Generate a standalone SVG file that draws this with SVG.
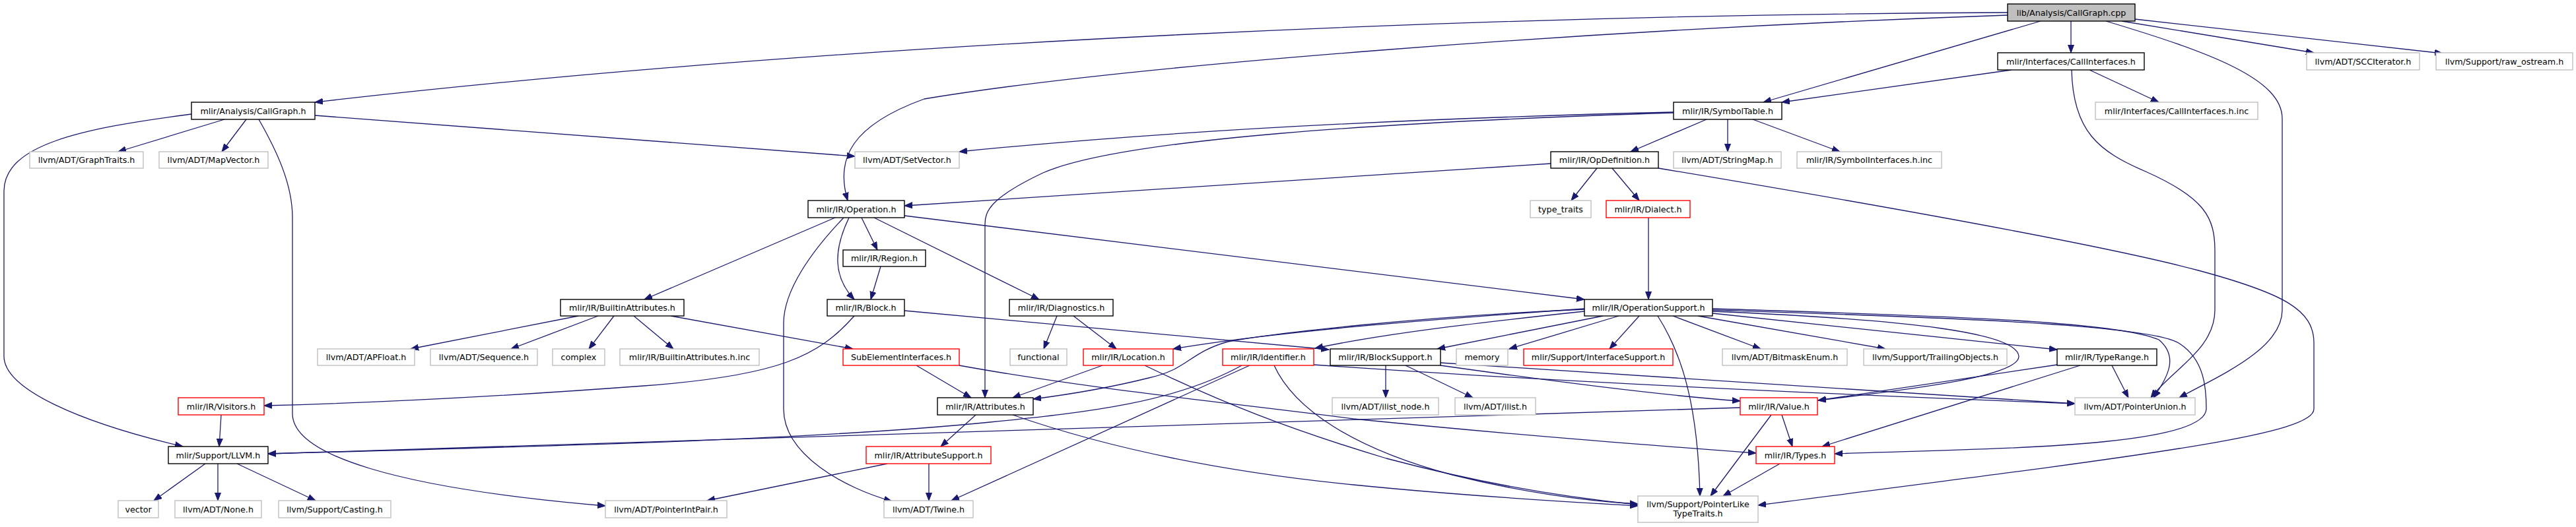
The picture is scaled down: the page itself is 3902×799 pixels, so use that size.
<svg xmlns="http://www.w3.org/2000/svg" width="3902" height="799" viewBox="0 0 3902 799">
<defs>
<style>
.node rect{fill:#ffffff;stroke-width:1.4}
.k rect{stroke:#000000}
.g rect{stroke:#bfbfbf}
.r rect{stroke:#ff0000}
.top rect{fill:#bfbfbf;stroke:#000000}
text{font-family:"DejaVu Sans","Liberation Sans",sans-serif;font-size:12.7px;text-anchor:middle;fill:#000000}
.edges path{fill:none;stroke:#191970;stroke-width:1.3;marker-end:url(#arr)}
</style>
<marker id="arr" markerUnits="userSpaceOnUse" markerWidth="14" markerHeight="12" refX="12" refY="5" orient="auto">
<path d="M0,0.5 L12,5 L0,9.5 z" fill="#191970" stroke="#191970" stroke-width="1"/>
</marker>
</defs>
<rect x="0" y="0" width="3902" height="799" fill="#ffffff"/>
<g id="edges" class="edges">
<path d="M3041,19 C2300,22 1300,60 477,155"/>
<path d="M3041,23 C2400,45 1700,100 1400,150 C1290,190 1265,240 1284,304"/>
<path d="M3091,32 L2671,155"/>
<path d="M3137,32 L3137,80"/>
<path d="M3190,32 C3350,80 3457,120 3457,180 L3457,470 C3457,530 3360,570 3301,603"/>
<path d="M3214,32 L3505,80"/>
<path d="M3234,29 L3700,81"/>
<path d="M3047,106 L2699,155"/>
<path d="M3165,106 L3270,155"/>
<path d="M3138,106 C3140,200 3180,230 3250,260 C3340,300 3355,330 3355,380 L3355,470 C3355,530 3290,560 3258,603"/>
<path d="M2585,181 L2470,230"/>
<path d="M2617,181 L2617,230"/>
<path d="M2655,181 L2787,230"/>
<path d="M2535,170 C2200,178 1800,195 1453,230"/>
<path d="M2535,171 C2100,185 1700,210 1580,262 C1500,300 1492,320 1492,340 L1492,603"/>
<path d="M340,181 L179,230"/>
<path d="M373,181 L336,230"/>
<path d="M477,175 L1295,237"/>
<path d="M290,173 C120,195 6,220 6,290 L6,540 C6,590 120,640 277,677"/>
<path d="M392,181 C420,230 443,280 443,330 L443,627 C443,690 600,740 917,767"/>
<path d="M1265,330 L976,454"/>
<path d="M1278,330 C1230,380 1187,440 1187,490 L1187,620 C1187,690 1280,740 1351,760"/>
<path d="M1286,330 C1262,380 1262,420 1294,454"/>
<path d="M1305,330 L1329,379"/>
<path d="M1324,330 L1574,454"/>
<path d="M1370,327 L2400,454"/>
<path d="M2349,248 L1370,312"/>
<path d="M1334,404 L1319,454"/>
<path d="M2419,255 L2380,304"/>
<path d="M2442,255 L2483,304"/>
<path d="M2512,255 C2900,320 3200,375 3330,410 C3460,445 3505,470 3505,520 L3505,620 C3505,660 3250,690 2663,766"/>
<path d="M2497,330 L2497,454"/>
<path d="M876,479 L622,529"/>
<path d="M906,479 L774,529"/>
<path d="M930,479 L892,529"/>
<path d="M960,479 L1020,529"/>
<path d="M1016,479 L1292,529"/>
<path d="M1294,479 C1240,540 1180,570 975,585 C800,598 600,610 400,615"/>
<path d="M1370,471 L2013,530"/>
<path d="M1601,479 L1581,529"/>
<path d="M1626,479 L1691,529"/>
<path d="M1388,554 L1471,603"/>
<path d="M1453,554 C1650,590 1900,615 2050,635 C2300,660 2500,675 2660,687"/>
<path d="M1670,554 L1534,603"/>
<path d="M1734,554 C1850,610 1950,650 2100,695 C2250,735 2380,755 2481,765"/>
<path d="M1930,554 C1960,620 2050,680 2200,720 C2300,745 2400,760 2481,764"/>
<path d="M1478,629 L1425,677"/>
<path d="M1534,629 C1680,680 1850,715 2050,735 C2250,755 2400,762 2481,767"/>
<path d="M1344,703 L1071,759"/>
<path d="M1407,703 L1407,759"/>
<path d="M1881,554 C1780,610 1650,625 1500,640 C1250,665 900,675 406,688"/>
<path d="M2636,618 C2100,635 1300,665 406,688"/>
<path d="M1893,554 L1441,759"/>
<path d="M1990,553 C2300,575 2700,595 3143,612"/>
<path d="M2182,550 C2600,575 2900,598 3143,612"/>
<path d="M2099,554 L2099,603"/>
<path d="M2129,554 L2231,603"/>
<path d="M2182,554 C2400,585 2550,602 2636,608"/>
<path d="M2400,468 C2200,482 1950,500 1777,529"/>
<path d="M2400,469 C2150,480 1930,505 1860,518 C1800,535 1800,560 1740,573 C1680,588 1620,598 1565,605"/>
<path d="M2400,472 C2250,488 2100,505 1992,528"/>
<path d="M2428,479 L2177,529"/>
<path d="M2452,479 L2286,529"/>
<path d="M2483,479 L2438,529"/>
<path d="M2511,479 C2550,540 2572,620 2575,752"/>
<path d="M2534,479 L2667,529"/>
<path d="M2572,479 L2856,529"/>
<path d="M2594,475 L3116,530"/>
<path d="M2594,468 C2900,478 3200,485 3270,515 C3300,540 3285,570 3262,603"/>
<path d="M2594,470 C2900,480 3250,490 3300,520 C3340,545 3342,590 3342,620 C3340,680 3000,680 2779,688"/>
<path d="M2594,472 C2900,485 3055,505 3058,540 C3060,570 2900,590 2754,607"/>
<path d="M3116,553 L2754,607"/>
<path d="M3151,554 L2760,677"/>
<path d="M3199,554 L3224,603"/>
<path d="M2699,629 L2715,677"/>
<path d="M2683,629 L2591,752"/>
<path d="M2696,703 L2610,752"/>
<path d="M335,629 L332,677"/>
<path d="M311,703 L233,759"/>
<path d="M330,703 L330,759"/>
<path d="M359,703 L478,759"/>
</g>
<g id="n_cpp" class="node top"><rect x="3041" y="6" width="193" height="26"/><text x="3137.5" y="23.5">lib/Analysis/CallGraph.cpp</text></g>
<g id="n_callgraph_h" class="node k"><rect x="290" y="155" width="187" height="26"/><text x="383.5" y="172.5">mlir/Analysis/CallGraph.h</text></g>
<g id="n_graphtraits" class="node g"><rect x="45" y="230" width="172" height="25"/><text x="131" y="247">llvm/ADT/GraphTraits.h</text></g>
<g id="n_mapvector" class="node g"><rect x="241" y="230" width="165" height="25"/><text x="323.5" y="247">llvm/ADT/MapVector.h</text></g>
<g id="n_setvector" class="node g"><rect x="1295" y="230" width="158" height="25"/><text x="1374" y="247">llvm/ADT/SetVector.h</text></g>
<g id="n_operation" class="node k"><rect x="1224" y="304" width="146" height="26"/><text x="1297" y="321.5">mlir/IR/Operation.h</text></g>
<g id="n_region" class="node k"><rect x="1277" y="379" width="125" height="25"/><text x="1339.5" y="396">mlir/IR/Region.h</text></g>
<g id="n_symboltable" class="node k"><rect x="2535" y="155" width="164" height="26"/><text x="2617" y="172.5">mlir/IR/SymbolTable.h</text></g>
<g id="n_opdef" class="node k"><rect x="2349" y="230" width="163" height="25"/><text x="2430.5" y="247">mlir/IR/OpDefinition.h</text></g>
<g id="n_stringmap" class="node g"><rect x="2535" y="230" width="163" height="25"/><text x="2616.5" y="247">llvm/ADT/StringMap.h</text></g>
<g id="n_symifaceinc" class="node g"><rect x="2722" y="230" width="219" height="25"/><text x="2831.5" y="247">mlir/IR/SymbolInterfaces.h.inc</text></g>
<g id="n_typetraits" class="node g"><rect x="2318" y="304" width="92" height="26"/><text x="2364" y="321.5">type_traits</text></g>
<g id="n_dialect" class="node r"><rect x="2433" y="304" width="127" height="26"/><text x="2496.5" y="321.5">mlir/IR/Dialect.h</text></g>
<g id="n_callifaces" class="node k"><rect x="3026" y="80" width="222" height="26"/><text x="3137" y="97.5">mlir/Interfaces/CallInterfaces.h</text></g>
<g id="n_scc" class="node g"><rect x="3494" y="80" width="171" height="26"/><text x="3579.5" y="97.5">llvm/ADT/SCCIterator.h</text></g>
<g id="n_rawos" class="node g"><rect x="3690" y="80" width="207" height="26"/><text x="3793.5" y="97.5">llvm/Support/raw_ostream.h</text></g>
<g id="n_callifacesinc" class="node g"><rect x="3174" y="155" width="246" height="26"/><text x="3297" y="172.5">mlir/Interfaces/CallInterfaces.h.inc</text></g>
<g id="n_builtinattrs" class="node k"><rect x="849" y="454" width="187" height="25"/><text x="942.5" y="471">mlir/IR/BuiltinAttributes.h</text></g>
<g id="n_apfloat" class="node g"><rect x="481" y="529" width="147" height="25"/><text x="554.5" y="546">llvm/ADT/APFloat.h</text></g>
<g id="n_sequence" class="node g"><rect x="652" y="529" width="162" height="25"/><text x="733" y="546">llvm/ADT/Sequence.h</text></g>
<g id="n_complex" class="node g"><rect x="837" y="529" width="79" height="25"/><text x="876.5" y="546">complex</text></g>
<g id="n_builtinattrsinc" class="node g"><rect x="939" y="529" width="211" height="25"/><text x="1044.5" y="546">mlir/IR/BuiltinAttributes.h.inc</text></g>
<g id="n_visitors" class="node r"><rect x="270" y="603" width="130" height="26"/><text x="335" y="620.5">mlir/IR/Visitors.h</text></g>
<g id="n_llvm" class="node k"><rect x="255" y="677" width="151" height="26"/><text x="330.5" y="694.5">mlir/Support/LLVM.h</text></g>
<g id="n_vector" class="node g"><rect x="179" y="759" width="61" height="26"/><text x="209.5" y="776.5">vector</text></g>
<g id="n_none" class="node g"><rect x="265" y="759" width="131" height="26"/><text x="330.5" y="776.5">llvm/ADT/None.h</text></g>
<g id="n_casting" class="node g"><rect x="422" y="759" width="170" height="26"/><text x="507" y="776.5">llvm/Support/Casting.h</text></g>
<g id="n_pointerintpair" class="node g"><rect x="917" y="759" width="184" height="26"/><text x="1009" y="776.5">llvm/ADT/PointerIntPair.h</text></g>
<g id="n_block" class="node k"><rect x="1253" y="454" width="117" height="25"/><text x="1311.5" y="471">mlir/IR/Block.h</text></g>
<g id="n_diagnostics" class="node k"><rect x="1529" y="454" width="157" height="25"/><text x="1607.5" y="471">mlir/IR/Diagnostics.h</text></g>
<g id="n_subelem" class="node r"><rect x="1277" y="529" width="176" height="25"/><text x="1365" y="546">SubElementInterfaces.h</text></g>
<g id="n_functional" class="node g"><rect x="1530" y="529" width="86" height="25"/><text x="1573" y="546">functional</text></g>
<g id="n_location" class="node r"><rect x="1641" y="529" width="136" height="25"/><text x="1709" y="546">mlir/IR/Location.h</text></g>
<g id="n_identifier" class="node r"><rect x="1852" y="529" width="138" height="25"/><text x="1921" y="546">mlir/IR/Identifier.h</text></g>
<g id="n_attributes" class="node k"><rect x="1420" y="603" width="145" height="26"/><text x="1492.5" y="620.5">mlir/IR/Attributes.h</text></g>
<g id="n_attrsupport" class="node r"><rect x="1312" y="677" width="189" height="26"/><text x="1406.5" y="694.5">mlir/IR/AttributeSupport.h</text></g>
<g id="n_twine" class="node g"><rect x="1339" y="759" width="135" height="26"/><text x="1406.5" y="776.5">llvm/ADT/Twine.h</text></g>
<g id="n_opsupport" class="node k"><rect x="2400" y="454" width="194" height="25"/><text x="2497" y="471">mlir/IR/OperationSupport.h</text></g>
<g id="n_blocksupport" class="node k"><rect x="2015" y="529" width="167" height="25"/><text x="2098.5" y="546">mlir/IR/BlockSupport.h</text></g>
<g id="n_memory" class="node g"><rect x="2206" y="529" width="78" height="25"/><text x="2245" y="546">memory</text></g>
<g id="n_ifacesupport" class="node r"><rect x="2308" y="529" width="226" height="25"/><text x="2421" y="546">mlir/Support/InterfaceSupport.h</text></g>
<g id="n_bitmask" class="node g"><rect x="2609" y="529" width="189" height="25"/><text x="2703.5" y="546">llvm/ADT/BitmaskEnum.h</text></g>
<g id="n_trailing" class="node g"><rect x="2823" y="529" width="217" height="25"/><text x="2931.5" y="546">llvm/Support/TrailingObjects.h</text></g>
<g id="n_typerange" class="node k"><rect x="3116" y="529" width="151" height="25"/><text x="3191.5" y="546">mlir/IR/TypeRange.h</text></g>
<g id="n_ilistnode" class="node g"><rect x="2018" y="603" width="161" height="26"/><text x="2098.5" y="620.5">llvm/ADT/ilist_node.h</text></g>
<g id="n_ilist" class="node g"><rect x="2204" y="603" width="122" height="26"/><text x="2265" y="620.5">llvm/ADT/ilist.h</text></g>
<g id="n_value" class="node r"><rect x="2636" y="603" width="117" height="26"/><text x="2694.5" y="620.5">mlir/IR/Value.h</text></g>
<g id="n_pointerunion" class="node g"><rect x="3143" y="603" width="182" height="26"/><text x="3234" y="620.5">llvm/ADT/PointerUnion.h</text></g>
<g id="n_types" class="node r"><rect x="2660" y="677" width="119" height="26"/><text x="2719.5" y="694.5">mlir/IR/Types.h</text></g>
<g id="n_pltt" class="node g"><rect x="2481" y="752" width="182" height="40"/><text x="2572" y="769">llvm/Support/PointerLike</text><text x="2572" y="783">TypeTraits.h</text></g>
</svg>
